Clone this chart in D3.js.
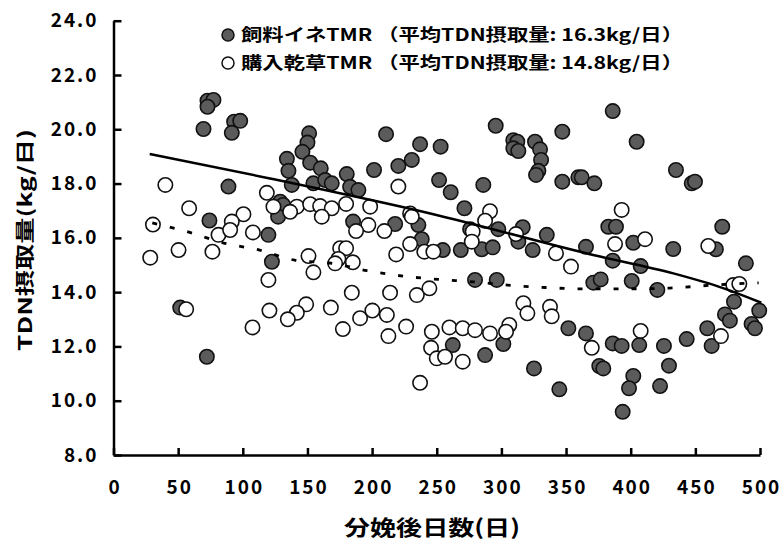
<!DOCTYPE html>
<html>
<head>
<meta charset="utf-8">
<script src="https://cdn.jsdelivr.net/npm/d3@7"></script>
<style>
  body { margin: 0; background: #fff; }
  text { font-family: "Noto Sans CJK JP", "Noto Sans", sans-serif; font-weight: bold; fill: #000; }
</style>
</head>
<body>
<div id="chart"></div>
<script>
const svgWidth = 784;
const svgHeight = 545;

// 飼料イネTMR (grey)
const riceDays = [72.7, 77.3, 72.7, 69.6, 93.3, 98.0, 91.5, 88.9, 74.2, 119.8, 122.5, 51.6, 72.2,
  151.3, 150.0, 146.1, 134.1, 135.3, 152.1, 160.3, 137.9, 154.6, 163.7, 168.8, 180.4, 183.0, 189.4,
  210.8, 201.5, 220.3, 230.7, 237.1, 253, 251.8, 128.9, 131.2, 127.3, 185.3, 217.8, 235.8, 238.4,
  295.6, 309.2, 312.3, 309.2, 313.1, 326.0, 329.9, 330.7, 328.6, 326.8, 347.1, 260.8, 286.0, 347.1,
  359.5, 362.1, 371.9, 271.4, 297.6, 316.5, 313.1, 335.1, 365.4, 324.2, 254.7, 268.6, 284.8, 293.3,
  275.8, 279.6, 296.4, 371.1, 351.8, 365.4, 262.4, 301.5, 287.4, 325.2, 344.8, 375.7, 378.8, 402.0,
  398.7, 422.7, 429.6, 393.8, 386.1, 404.6, 435.0, 447.2, 449.7, 382.7, 388.6, 470.8, 402.0, 432.9,
  465.9, 489.1, 386.1, 407.7, 376.8, 400.8, 420.6, 479.9, 472.9, 476.7, 499.4, 493.5, 496.1, 459.2,
  462.6, 443.3, 425.7, 406.6, 386.1, 393.0];
const riceTDN = [21.05, 21.08, 20.83, 20.01, 20.28, 20.31, 19.87, 17.89, 16.64, 16.11, 15.12, 13.43, 11.62,
  19.85, 19.51, 19.17, 18.91, 18.47, 18.77, 18.56, 17.95, 18.01, 18.13, 18.01, 18.35, 17.88, 17.76,
  19.82, 18.50, 18.65, 18.87, 19.45, 19.36, 18.13, 17.33, 17.21, 16.78, 16.60, 16.51, 16.47, 15.95,
  20.13, 19.60, 19.54, 19.30, 19.20, 19.54, 19.26, 18.87, 18.47, 18.32, 19.91, 17.68, 17.95, 18.07,
  18.23, 18.23, 18.01, 17.09, 16.32, 16.39, 15.86, 16.11, 15.67, 15.55, 15.55, 15.55, 15.58, 15.65,
  16.32, 14.45, 14.45, 14.35, 12.67, 12.48, 12.05, 12.09, 11.68, 11.19, 10.42, 11.28, 11.19, 10.91,
  10.46, 10.54, 11.29, 9.59, 20.67, 19.54, 18.50, 18.01, 18.07, 16.41, 16.41, 16.41, 15.82, 15.59,
  15.58, 15.06, 15.16, 14.96, 14.47, 14.41, 14.08, 13.65, 13.18, 12.95, 13.32, 12.83, 12.67, 12.67,
  12.02, 12.27, 12.02, 12.05, 12.11, 12.02];

// 購入乾草TMR (white)
const hayDays = [40.1, 58.5, 118.6, 123.7, 100.5, 91.5, 30.5, 81.2, 90.2, 107.8, 50.3, 28.4, 76.5,
  119.8, 56.2, 120.6, 107.5, 237.1, 141.8, 152.1, 159.8, 168.8, 161.1, 136.6, 179.9, 198.5, 220.3,
  229.4, 230.7, 197.1, 209.5, 187.6, 229.4, 218.6, 240.4, 247.4, 150.8, 154.6, 175.3, 179.9, 173.9,
  171.4, 185.1, 184.3, 213.9, 234.6, 244.3, 149.0, 141.8, 134.8, 168.1, 177.4, 190.7, 200.2, 211.4,
  212.6, 226.3, 246.2, 245.6, 250.0, 277.8, 277.1, 291.2, 287.4, 311.3, 342.2, 353.8, 317.0, 320.1,
  337.6, 338.9, 259.8, 270.1, 279.6, 291.2, 306.1, 303.6, 256.4, 270.1, 369.9, 393.0, 387.9, 411.1,
  460.0, 479.3, 484.0, 407.7, 469.8];
const hayTDN = [17.95, 17.09, 17.66, 17.15, 16.87, 16.60, 16.49, 16.11, 16.29, 16.20, 15.55, 15.27, 15.49,
  14.45, 13.37, 13.32, 12.70, 10.66, 17.15, 17.24, 17.17, 17.09, 16.78, 16.96, 17.25, 17.15, 17.89,
  16.90, 16.78, 16.47, 16.25, 16.25, 15.77, 15.39, 15.49, 15.49, 15.33, 14.73, 15.62, 15.62, 15.22,
  15.06, 15.10, 13.98, 13.98, 13.89, 14.14, 13.55, 13.24, 13.00, 13.43, 12.64, 13.04, 13.32, 13.16,
  12.38, 12.73, 12.54, 11.95, 11.56, 16.23, 15.86, 16.98, 16.63, 16.14, 15.43, 14.94, 13.59, 13.22,
  13.46, 13.11, 12.70, 12.67, 12.60, 12.48, 12.79, 12.54, 11.62, 11.44, 11.95, 17.03, 15.77, 15.95,
  15.70, 14.26, 14.30, 12.57, 12.38];

// trend curves
const riceTrendDays = [28, 121, 245, 371, 433, 472, 501];
const riceTrendTDN = [19.09, 18.19, 16.9, 15.37, 14.69, 14.14, 13.61];
const hayTrendDays = [30, 59, 86, 113, 140, 169, 196, 224, 251, 278, 307, 334, 362, 402, 430, 470, 499];
const hayTrendTDN = [16.55, 16.2, 15.8, 15.55, 15.18, 15.06, 14.79, 14.59, 14.47, 14.38, 14.25, 14.17, 14.12, 14.12, 14.15, 14.28, 14.34];

const xTicks = [0, 50, 100, 150, 200, 250, 300, 350, 400, 450, 500];
const yTicks = [8, 10, 12, 14, 16, 18, 20, 22, 24];

const legendLabels = ["飼料イネTMR （平均TDN摂取量: 16.3kg/日）", "購入乾草TMR （平均TDN摂取量: 14.8kg/日）"];
const legendFills = ["#5b5b5b", "#ffffff"];

const drawChart = () => {
  const svg = d3.select("#chart")
    .append("svg")
    .attr("width", svgWidth)
    .attr("height", svgHeight);

  const xScale = d3.scaleLinear().domain([0, 500]).range([113.5, 760]);
  const yScale = d3.scaleLinear().domain([8, 24]).range([455, 20.7]);

  const xAxis = svg.append("g")
    .attr("transform", `translate(0,${yScale(8)})`)
    .call(d3.axisBottom(xScale).tickValues(xTicks).tickSize(-7).tickSizeOuter(0).tickPadding(26).tickFormat(d3.format("d")));
  const yAxis = svg.append("g")
    .attr("transform", `translate(${xScale(0)},0)`)
    .call(d3.axisLeft(yScale).tickValues(yTicks).tickSize(-8).tickSizeOuter(0).tickPadding(15).tickFormat(d3.format(".1f")));

  [xAxis, yAxis].forEach(ax => {
    ax.select(".domain").attr("stroke", "#000").attr("stroke-width", 2.5);
    ax.selectAll(".tick line").attr("stroke", "#000").attr("stroke-width", 2.5);
    ax.selectAll(".tick text")
      .style("font-size", "19px")
      .style("letter-spacing", "2px")
      .attr("fill", "#000");
  });
  // centre x labels despite trailing letter spacing
  xAxis.selectAll(".tick text").attr("dx", "1px");

  const plot = svg.append("g");

  plot.selectAll("circle.rice")
    .data(riceDays.map((d, i) => [d, riceTDN[i]]))
    .enter().append("circle")
    .attr("class", "rice")
    .attr("cx", d => xScale(d[0]))
    .attr("cy", d => yScale(d[1]))
    .attr("r", 7.2)
    .attr("fill", legendFills[0])
    .attr("stroke", "#111")
    .attr("stroke-width", 1.6);

  plot.selectAll("circle.hay")
    .data(hayDays.map((d, i) => [d, hayTDN[i]]))
    .enter().append("circle")
    .attr("class", "hay")
    .attr("cx", d => xScale(d[0]))
    .attr("cy", d => yScale(d[1]))
    .attr("r", 7.2)
    .attr("fill", legendFills[1])
    .attr("stroke", "#111")
    .attr("stroke-width", 1.6);

  const line = d3.line()
    .x(d => xScale(d[0]))
    .y(d => yScale(d[1]))
    .curve(d3.curveMonotoneX);

  svg.append("path")
    .datum(riceTrendDays.map((d, i) => [d, riceTrendTDN[i]]))
    .attr("d", line)
    .attr("fill", "none")
    .attr("stroke", "#000")
    .attr("stroke-width", 2.5);

  svg.append("path")
    .datum(hayTrendDays.map((d, i) => [d, hayTrendTDN[i]]))
    .attr("d", line)
    .attr("fill", "none")
    .attr("stroke", "#000")
    .attr("stroke-width", 2.8)
    .attr("stroke-dasharray", "5,13");

  // legend
  const legend = svg.append("g");
  legendLabels.forEach((label, i) => {
    const y = 35 + i * 28;
    legend.append("circle")
      .attr("cx", 228).attr("cy", y).attr("r", 6)
      .attr("fill", legendFills[i]).attr("stroke", "#111").attr("stroke-width", 1.5);
    legend.append("text")
      .attr("x", 241).attr("y", y).attr("dy", "0.36em")
      .attr("textLength", 442).attr("lengthAdjust", "spacingAndGlyphs")
      .style("font-size", "17px")
      .text(label);
  });

  svg.append("text")
    .attr("x", 432).attr("y", 527).attr("dy", "0.36em")
    .attr("text-anchor", "middle")
    .attr("textLength", 176).attr("lengthAdjust", "spacingAndGlyphs")
    .style("font-size", "21px")
    .text("分娩後日数(日)");

  svg.append("text")
    .attr("transform", "translate(25,240) rotate(-90)")
    .attr("dy", "0.36em")
    .attr("text-anchor", "middle")
    .attr("textLength", 222).attr("lengthAdjust", "spacingAndGlyphs")
    .style("font-size", "19px")
    .text("TDN摂取量(kg/日)");
};

window.onload = drawChart;
</script>
</body>
</html>
